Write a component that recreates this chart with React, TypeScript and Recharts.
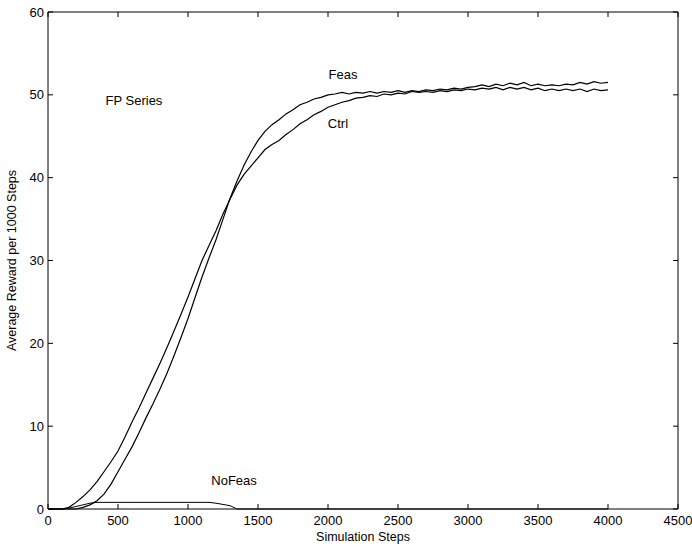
import { LineChart, Line, XAxis, YAxis, ReferenceDot, ReferenceLine } from 'recharts';

// simulation step grid (every 50 steps)
const steps = Array.from({ length: 81 }, (_, i) => i * 50);

const ctrl = [
  0, 0, 0, 0.2, 0.8, 1.5, 2.3, 3.3, 4.5, 5.7,
  7.0, 8.7, 10.5, 12.2, 14.0, 15.8, 17.6, 19.5, 21.5, 23.5,
  25.6, 27.8, 30.0, 31.8, 33.6, 35.6, 37.4, 39.1, 40.4, 41.4,
  42.4, 43.4, 44.0, 44.5, 45.2, 45.8, 46.5, 47.0, 47.6, 48.0,
  48.5, 48.8, 49.1, 49.3, 49.6, 49.7, 49.9, 49.8, 50.1, 50.0,
  50.2, 50.1, 50.4, 50.3, 50.4, 50.3, 50.5, 50.4, 50.6, 50.5,
  50.7, 50.6, 50.8, 50.7, 50.9, 50.6, 50.9, 50.7, 50.9, 50.6,
  50.8, 50.5, 50.7, 50.5, 50.7, 50.5, 50.7, 50.4, 50.7, 50.5,
  50.6,
];

const feas = [
  0, 0, 0, 0, 0, 0.2, 0.5, 1.0, 1.8, 3.0,
  4.5, 6.0, 7.5, 9.2, 11.0, 12.7, 14.5, 16.4, 18.5, 20.7,
  23.0, 25.5, 28.0, 30.3, 32.5, 35.0, 37.5, 39.6, 41.5, 43.1,
  44.5, 45.6, 46.4, 47.0, 47.7, 48.2, 48.8, 49.1, 49.5, 49.7,
  50.0, 50.1, 50.3, 50.1, 50.3, 50.2, 50.4, 50.2, 50.4, 50.3,
  50.5, 50.3, 50.5, 50.4, 50.6, 50.5, 50.7, 50.6, 50.8, 50.7,
  50.9, 51.0, 51.2, 51.0, 51.3, 51.1, 51.4, 51.2, 51.5, 51.1,
  51.3, 51.1, 51.2, 51.1, 51.3, 51.2, 51.5, 51.3, 51.6, 51.4,
  51.5,
];

const noFeas = [
  0, 0, 0, 0.1, 0.3, 0.5, 0.7, 0.8, 0.8, 0.8,
  0.8, 0.8, 0.8, 0.8, 0.8, 0.8, 0.8, 0.8, 0.8, 0.8,
  0.8, 0.8, 0.8, 0.8, 0.7, 0.55, 0.4, 0, 0, 0,
  0, 0, 0, 0, 0, 0, 0, 0, 0, 0,
  0, 0, 0, 0, 0, 0, 0, 0, 0, 0,
  0, 0, 0, 0, 0, 0, 0, 0, 0, 0,
  0, 0, 0, 0, 0, 0, 0, 0, 0, 0,
  0, 0, 0, 0, 0, 0, 0, 0, 0, 0,
  0,
];

const xTicks = [0, 500, 1000, 1500, 2000, 2500, 3000, 3500, 4000, 4500];
const yTicks = [0, 10, 20, 30, 40, 50, 60];

// text annotations placed in data coordinates
const notes = [
  { text: 'FP Series', x: 614, y: 49.3 },
  { text: 'Feas', x: 2107, y: 52.5 },
  { text: 'Ctrl', x: 2071, y: 46.6 },
  { text: 'NoFeas', x: 1329, y: 3.5 },
];

const data = steps.map((s, i) => ({ step: s, ctrl: ctrl[i], feas: feas[i], noFeas: noFeas[i] }));

const FONT = '"Liberation Sans", Arial, Helvetica, sans-serif';
const TICK = 5;
// plot box edges (px) from the chart margins / axis sizes below
const PLOT_TOP = 12;
const PLOT_RIGHT = 678;

const renderBottomTick = (props: any) => {
  const { x, y, payload } = props;
  return (
    <g key={`bt-${payload.value}`}>
      <path d={`M${x},${y}V${y - TICK}M${x},${PLOT_TOP}V${PLOT_TOP + TICK}`} stroke="#000" strokeWidth={1} fill="none" />
      <text x={x} y={y + 16} textAnchor="middle" fontSize={13} fontFamily={FONT} fill="#000">
        {payload.value}
      </text>
    </g>
  );
};

const renderLeftTick = (props: any) => {
  const { x, y, payload } = props;
  return (
    <g key={`lt-${payload.value}`}>
      <path d={`M${x},${y}H${x + TICK}M${PLOT_RIGHT},${y}H${PLOT_RIGHT - TICK}`} stroke="#000" strokeWidth={1} fill="none" />
      <text x={x - 4} y={y + 4.5} textAnchor="end" fontSize={13} fontFamily={FONT} fill="#000">
        {payload.value}
      </text>
    </g>
  );
};

export default function App() {
  return (
    <div style={{ position: 'absolute', left: 0, top: 0, background: '#fff' }}>
      <LineChart width={692} height={548} data={data} margin={{ top: PLOT_TOP, right: 692 - PLOT_RIGHT, bottom: 0, left: 0 }}>
        <XAxis
          dataKey="step"
          type="number"
          domain={[0, 4500]}
          ticks={xTicks}
          height={39}
          tickSize={0}
          tickMargin={0}
          tick={renderBottomTick}
          tickLine={false}
          axisLine={{ stroke: '#000' }}
          interval={0}
          label={(p: any) => {
            const vb = p.viewBox;
            return (
              <text x={vb.x + vb.width / 2} y={vb.y + 32} textAnchor="middle" fontSize={12.5} fontFamily={FONT} fill="#000">
                Simulation Steps
              </text>
            );
          }}
        />
        <YAxis
          type="number"
          domain={[0, 60]}
          ticks={yTicks}
          width={48}
          tickSize={0}
          tickMargin={0}
          tick={renderLeftTick}
          tickLine={false}
          axisLine={{ stroke: '#000' }}
          interval={0}
          label={(p: any) => {
            const vb = p.viewBox;
            const cx = vb.x + 12;
            const cy = vb.y + vb.height / 2;
            return (
              <text x={cx} y={cy} transform={`rotate(-90 ${cx} ${cy})`} textAnchor="middle" dominantBaseline="central" fontSize={12.5} fontFamily={FONT} fill="#000">
                Average Reward per 1000 Steps
              </text>
            );
          }}
        />
        <ReferenceLine y={60} stroke="#000" strokeWidth={1} ifOverflow="visible" />
        <ReferenceLine x={4500} stroke="#000" strokeWidth={1} ifOverflow="visible" />
        <Line type="linear" dataKey="noFeas" stroke="#000" strokeWidth={1} dot={false} isAnimationActive={false} />
        <Line type="linear" dataKey="ctrl" stroke="#000" strokeWidth={1.2} dot={false} isAnimationActive={false} />
        <Line type="linear" dataKey="feas" stroke="#000" strokeWidth={1.2} dot={false} isAnimationActive={false} />
        {notes.map((n) => (
          <ReferenceDot
            key={n.text}
            x={n.x}
            y={n.y}
            r={0}
            fill="none"
            stroke="none"
            label={{ value: n.text, position: 'center', fontSize: 13, fontFamily: FONT, fill: '#000' }}
          />
        ))}
      </LineChart>
    </div>
  );
}
